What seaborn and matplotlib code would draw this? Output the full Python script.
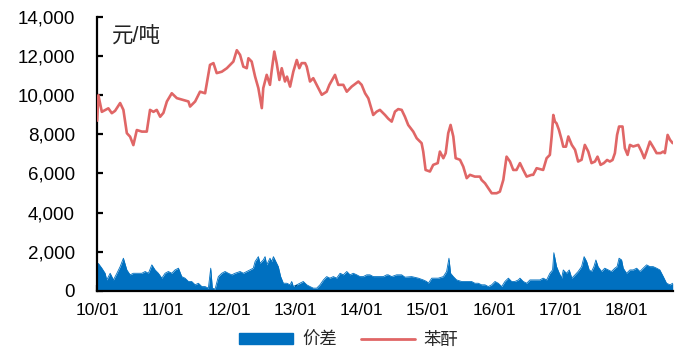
import numpy as np
import pandas as pd
import matplotlib
matplotlib.use("Agg")
import matplotlib.pyplot as plt
import matplotlib.dates as mdates
from matplotlib.patches import Patch
from matplotlib.lines import Line2D
from matplotlib.ticker import StrMethodFormatter
import seaborn as sns

# ---------------------------------------------------------------------------
# data
# ---------------------------------------------------------------------------
price_dates = [
    "2010-01-01", "2010-01-08", "2010-01-27", "2010-03-04", "2010-03-23", "2010-04-10",
    "2010-05-08", "2010-05-26", "2010-06-14", "2010-07-02", "2010-07-20", "2010-08-08",
    "2010-09-05", "2010-10-02", "2010-10-20", "2010-11-08", "2010-11-26", "2010-12-15",
    "2011-01-02", "2011-01-21", "2011-02-17", "2011-03-17", "2011-04-13", "2011-05-20",
    "2011-05-29", "2011-06-26", "2011-07-23", "2011-08-20", "2011-09-16", "2011-10-05",
    "2011-10-23", "2011-11-20", "2011-12-18", "2012-01-14", "2012-01-23", "2012-02-11",
    "2012-02-29", "2012-03-18", "2012-04-06", "2012-04-15", "2012-05-03", "2012-05-22",
    "2012-06-09", "2012-06-28", "2012-07-06", "2012-07-25", "2012-08-12", "2012-08-22",
    "2012-09-05", "2012-09-18", "2012-10-03", "2012-10-16", "2012-11-03", "2012-11-14",
    "2012-12-01", "2012-12-19", "2013-01-07", "2013-01-21", "2013-02-03", "2013-02-22",
    "2013-03-03", "2013-03-21", "2013-04-08", "2013-04-27", "2013-05-25", "2013-06-21",
    "2013-07-06", "2013-08-06", "2013-08-24", "2013-09-21", "2013-10-10", "2013-11-06",
    "2013-12-13", "2013-12-31", "2014-01-19", "2014-02-06", "2014-03-05", "2014-03-24",
    "2014-04-11", "2014-05-09", "2014-05-27", "2014-06-15", "2014-07-03", "2014-07-21",
    "2014-08-09", "2014-08-27", "2014-09-14", "2014-10-12", "2014-10-31", "2014-11-27",
    "2014-12-06", "2014-12-19", "2015-01-12", "2015-01-30", "2015-02-24", "2015-03-08",
    "2015-03-27", "2015-04-09", "2015-04-23", "2015-05-06", "2015-05-21", "2015-06-03",
    "2015-06-27", "2015-07-15", "2015-08-03", "2015-08-21", "2015-09-17", "2015-10-15",
    "2015-10-24", "2015-11-12", "2015-11-30", "2015-12-19", "2016-01-15", "2016-02-02",
    "2016-02-21", "2016-03-10", "2016-03-29", "2016-04-16", "2016-05-04", "2016-05-23",
    "2016-06-10", "2016-06-29", "2016-07-26", "2016-08-04", "2016-08-23", "2016-09-28",
    "2016-10-17", "2016-11-04", "2016-11-14", "2016-11-23", "2016-12-02", "2016-12-11",
    "2016-12-24", "2017-01-08", "2017-01-17", "2017-02-01", "2017-02-14", "2017-03-05",
    "2017-03-23", "2017-04-09", "2017-04-28", "2017-05-16", "2017-06-04", "2017-06-22",
    "2017-07-11", "2017-07-25", "2017-08-11", "2017-08-29", "2017-09-16", "2017-10-01",
    "2017-10-16", "2017-10-29", "2017-11-10", "2017-11-21", "2017-12-10", "2017-12-23",
    "2018-01-07", "2018-01-20", "2018-02-07", "2018-03-07", "2018-03-25", "2018-04-09",
    "2018-04-22", "2018-05-10", "2018-06-01", "2018-06-16", "2018-07-08", "2018-07-23",
    "2018-08-01", "2018-08-16", "2018-08-29", "2018-09-13",
]
price_values = [
    8700, 10000, 9150, 9330, 9080, 9200,
    9600, 9250, 8060, 7880, 7450, 8220,
    8140, 8140, 9250, 9150, 9250, 8900,
    9100, 9680, 10100, 9850, 9780, 9680,
    9420, 9680, 10180, 10100, 11550, 11640,
    11130, 11200, 11380, 11640, 11720, 12300,
    12060, 11460, 11380, 11890, 11720, 10950,
    10360, 9340, 10360, 11040, 10530, 11290,
    12230, 11640, 10780, 11380, 10700, 10950,
    10440, 11210, 11800, 11380, 11640, 11640,
    11460, 10700, 10870, 10530, 10020, 10180,
    10530, 11040, 10530, 10530, 10180, 10440,
    10700, 10530, 10100, 9840, 8990, 9160,
    9250, 8990, 8800, 8650, 9160, 9290,
    9250, 8900, 8480, 8140, 7800, 7550,
    7120, 6180, 6100, 6440, 6530, 7120,
    6780, 7040, 8060, 8480, 7890, 6780,
    6700, 6350, 5760, 5930, 5840, 5840,
    5670, 5500, 5250, 4990, 4990, 5070,
    5670, 6860, 6610, 6180, 6180, 6530,
    6180, 5840, 5930, 5930, 6270, 6180,
    6780, 6950, 7890, 8990, 8650, 8560,
    8230, 7720, 7370, 7370, 7890, 7460,
    7210, 6610, 6700, 7460, 7120, 6530,
    6610, 6860, 6440, 6530, 6690, 6610,
    6690, 7040, 7970, 8400, 8400, 7290,
    6950, 7460, 7380, 7460, 7120, 6780,
    7120, 7630, 7290, 7040, 7040, 7120,
    7040, 7970, 7720, 7550,
]

spread_dates = [
    "2010-01-01", "2010-01-08", "2010-01-27", "2010-02-14", "2010-02-23", "2010-03-14",
    "2010-04-01", "2010-04-20", "2010-05-08", "2010-05-26", "2010-06-14", "2010-07-02",
    "2010-07-20", "2010-08-08", "2010-09-05", "2010-09-23", "2010-10-11", "2010-10-30",
    "2010-11-17", "2010-12-05", "2010-12-24", "2011-01-11", "2011-01-29", "2011-02-17",
    "2011-03-07", "2011-03-26", "2011-04-13", "2011-05-01", "2011-05-20", "2011-06-07",
    "2011-06-26", "2011-07-14", "2011-08-02", "2011-08-20", "2011-09-07", "2011-09-20",
    "2011-09-29", "2011-10-14", "2011-11-01", "2011-11-20", "2011-12-08", "2011-12-26",
    "2012-01-14", "2012-02-01", "2012-02-29", "2012-03-18", "2012-04-06", "2012-04-24",
    "2012-05-12", "2012-05-22", "2012-06-09", "2012-06-18", "2012-07-06", "2012-07-16",
    "2012-07-25", "2012-08-12", "2012-08-22", "2012-08-31", "2012-09-09", "2012-09-18",
    "2012-09-27", "2012-10-10", "2012-10-25", "2012-11-13", "2012-12-01", "2012-12-10",
    "2012-12-19", "2013-01-07", "2013-01-25", "2013-02-12", "2013-03-03", "2013-03-21",
    "2013-04-08", "2013-04-27", "2013-05-15", "2013-06-03", "2013-06-21", "2013-07-09",
    "2013-07-28", "2013-08-15", "2013-09-03", "2013-09-21", "2013-10-10", "2013-10-28",
    "2013-11-15", "2013-12-04", "2013-12-22", "2014-01-09", "2014-01-28", "2014-02-15",
    "2014-03-05", "2014-03-24", "2014-04-11", "2014-04-30", "2014-05-18", "2014-05-27",
    "2014-06-15", "2014-07-12", "2014-08-09", "2014-08-27", "2014-10-03", "2014-11-09",
    "2014-12-06", "2014-12-25", "2015-01-03", "2015-01-22", "2015-02-27", "2015-03-27",
    "2015-04-14", "2015-04-27", "2015-05-06", "2015-05-21", "2015-06-08", "2015-07-06",
    "2015-08-03", "2015-08-30", "2015-09-17", "2015-10-06", "2015-10-24", "2015-11-12",
    "2015-11-30", "2015-12-19", "2016-01-06", "2016-01-24", "2016-02-12", "2016-03-01",
    "2016-03-20", "2016-04-07", "2016-04-25", "2016-05-14", "2016-05-23", "2016-06-10",
    "2016-06-29", "2016-07-17", "2016-08-04", "2016-08-23", "2016-09-10", "2016-09-28",
    "2016-10-17", "2016-11-04", "2016-11-19", "2016-11-26", "2016-12-02", "2016-12-11",
    "2016-12-26", "2017-01-08", "2017-01-17", "2017-02-04", "2017-02-19", "2017-03-05",
    "2017-03-23", "2017-04-09", "2017-04-28", "2017-05-12", "2017-05-26", "2017-06-09",
    "2017-06-22", "2017-07-05", "2017-07-16", "2017-07-28", "2017-08-16", "2017-09-03",
    "2017-09-22", "2017-10-10", "2017-10-29", "2017-11-10", "2017-11-21", "2017-12-05",
    "2017-12-14", "2018-01-01", "2018-01-20", "2018-02-07", "2018-02-26", "2018-03-16",
    "2018-04-03", "2018-04-22", "2018-05-10", "2018-05-28", "2018-06-16", "2018-07-04",
    "2018-07-23", "2018-08-10", "2018-08-29", "2018-09-13",
]
spread_values = [
    1400, 1400, 1160, 900, 560, 900,
    560, 900, 1240, 1670, 1070, 820,
    900, 900, 900, 990, 900, 1330,
    1070, 900, 650, 900, 990, 900,
    1070, 1160, 730, 650, 480, 480,
    310, 390, 220, 220, 140, 1160,
    140, 90, 730, 900, 990, 900,
    820, 900, 990, 900, 990, 1070,
    1160, 1500, 1750, 1410, 1580, 1750,
    1330, 1670, 1500, 1750, 1580, 1410,
    1240, 730, 390, 390, 310, 480,
    220, 310, 390, 480, 310, 220,
    140, 140, 310, 560, 730, 650,
    730, 650, 900, 820, 990, 820,
    900, 820, 730, 730, 820, 820,
    730, 730, 730, 730, 820, 820,
    730, 820, 820, 700, 730, 650,
    560, 480, 390, 650, 650, 730,
    990, 1670, 900, 730, 560, 480,
    480, 480, 390, 390, 310, 310,
    220, 310, 480, 390, 220, 480,
    650, 480, 480, 560, 650, 480,
    390, 560, 560, 560, 560, 650,
    560, 900, 1070, 1950, 1670, 1240,
    900, 650, 1070, 900, 1070, 650,
    820, 990, 1240, 1750, 1500, 1070,
    990, 1240, 1580, 1240, 990, 1160,
    1070, 990, 1160, 1240, 1670, 1580,
    1160, 900, 1070, 1070, 1160, 990,
    1160, 1330, 1240, 1240, 1160, 1070,
    730, 390, 310, 390,
]

y_ticks = [0, 2000, 4000, 6000, 8000, 10000, 12000, 14000]
unit_label = "元/吨"
series_names = ["价差", "苯酐"]

BLUE = "#0070C0"
RED = "#E06666"

price_df = pd.DataFrame({"date": pd.to_datetime(price_dates), "value": price_values})
spread_df = pd.DataFrame({"date": pd.to_datetime(spread_dates), "value": spread_values})

# ---------------------------------------------------------------------------
# plot
# ---------------------------------------------------------------------------
sns.set_style("ticks")
plt.rcParams["font.family"] = ["Liberation Sans", "Noto Sans CJK SC", "DejaVu Sans"]

fig = plt.figure(figsize=(6.84, 3.53), dpi=100)
ax = fig.add_axes([0.142, 0.176, 0.842, 0.776])

# spread as filled area
ax.fill_between(spread_df["date"], 0, spread_df["value"], color=BLUE, linewidth=0, zorder=2)
sns.lineplot(data=spread_df, x="date", y="value", ax=ax, color=BLUE, linewidth=0.6, zorder=2)
# price line
sns.lineplot(data=price_df, x="date", y="value", ax=ax, color=RED, linewidth=1.9, zorder=3)

ax.set_ylim(0, 14000)
ax.set_xlim(pd.Timestamp("2010-01-01"), pd.Timestamp("2018-09-15"))
ax.set_yticks(y_ticks)
ax.yaxis.set_major_formatter(StrMethodFormatter("{x:,.0f}"))
ax.xaxis.set_major_locator(mdates.YearLocator())
ax.xaxis.set_major_formatter(mdates.DateFormatter("%y/%m"))

ax.set_xlabel("")
ax.set_ylabel("")
sns.despine(ax=ax)
for side in ["left", "bottom"]:
    ax.spines[side].set_linewidth(1.6)
    ax.spines[side].set_color("black")
ax.tick_params(axis="both", direction="in", length=4, width=1.6, colors="black")
ax.tick_params(axis="x", labelsize=12.5, pad=9)
ax.tick_params(axis="y", labelsize=13.5, pad=16)
ax.grid(False)

ax.text(0.026, 0.927, unit_label, transform=ax.transAxes, fontsize=15.5,
        ha="left", va="center", color="#222222")

handles = [Patch(facecolor=BLUE, edgecolor=BLUE),
           Line2D([0], [0], color=RED, linewidth=2.0)]
fig.legend(handles, series_names, loc="center", bbox_to_anchor=(0.51, 0.037),
           ncol=2, frameon=False, fontsize=12.5, handlelength=3.1,
           handleheight=0.6, columnspacing=1.4, handletextpad=0.5)

plt.savefig("out.png", dpi=100)
plt.close()
